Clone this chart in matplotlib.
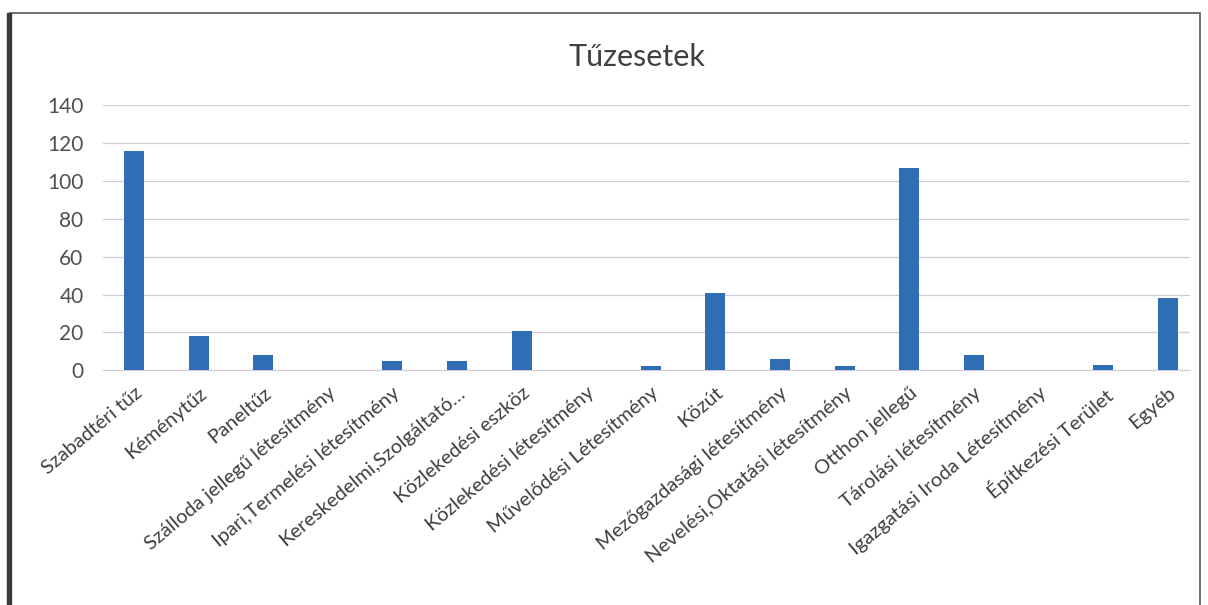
import matplotlib.pyplot as plt
from matplotlib.patches import Rectangle

plt.rcParams["font.family"] = ["Lato", "DejaVu Sans"]

categories = [
    "Szabadtéri tűz", "Kéménytűz", "Paneltűz", "Szálloda jellegű létesítmény",
    "Ipari,Termelési létesítmény", "Kereskedelmi,Szolgáltató…", "Közlekedési eszköz",
    "Közlekedési létesítmény", "Művelődési Létesítmény", "Közút",
    "Mezőgazdasági létesítmény", "Nevelési,Oktatási létesítmény", "Otthon jellegű",
    "Tárolási létesítmény", "Igazgatási Iroda Létesítmény", "Építkezési Terület", "Egyéb",
]
values = [116, 18, 8, 0, 5, 5, 21, 0, 2, 41, 6, 2, 107, 8, 0, 3, 38]

fig = plt.figure(figsize=(12.08, 6.05), dpi=100)
ax = fig.add_axes([0.0853, 0.388, 0.9, 0.438])

x = range(len(categories))
ax.bar(x, values, width=0.31, color="#2f6db4", zorder=3)

ax.set_xlim(-0.48, len(categories) - 0.65)
ax.set_ylim(0, 140)
ax.set_yticks(range(0, 141, 20))
ax.set_xticks(list(x))
ax.set_xticklabels(categories, rotation=40, ha="right", rotation_mode="anchor",
                   fontsize=14.5, color="#404040")
ax.tick_params(axis="y", labelsize=15, colors="#505050", length=0, pad=14)
ax.tick_params(axis="x", length=0, pad=10)
ax.grid(axis="y", color="#d2c8da", linewidth=0.9, zorder=0)
for s in ["top", "right", "left"]:
    ax.spines[s].set_visible(False)
ax.spines["bottom"].set_color("#d2c8da")

fig.text(0.527, 0.905, "Tűzesetek", ha="center", va="center", fontsize=22, color="#404040")

# chart frame
fig.patches.append(Rectangle((0.008, -0.01), 0.985, 0.988, transform=fig.transFigure,
                             fill=False, edgecolor="#5a5a5a", linewidth=1.2))
fig.patches.append(Rectangle((0.006, -0.01), 0.003, 0.988, transform=fig.transFigure,
                             color="#3a3a3a"))

fig.savefig("out.png", dpi=100)
